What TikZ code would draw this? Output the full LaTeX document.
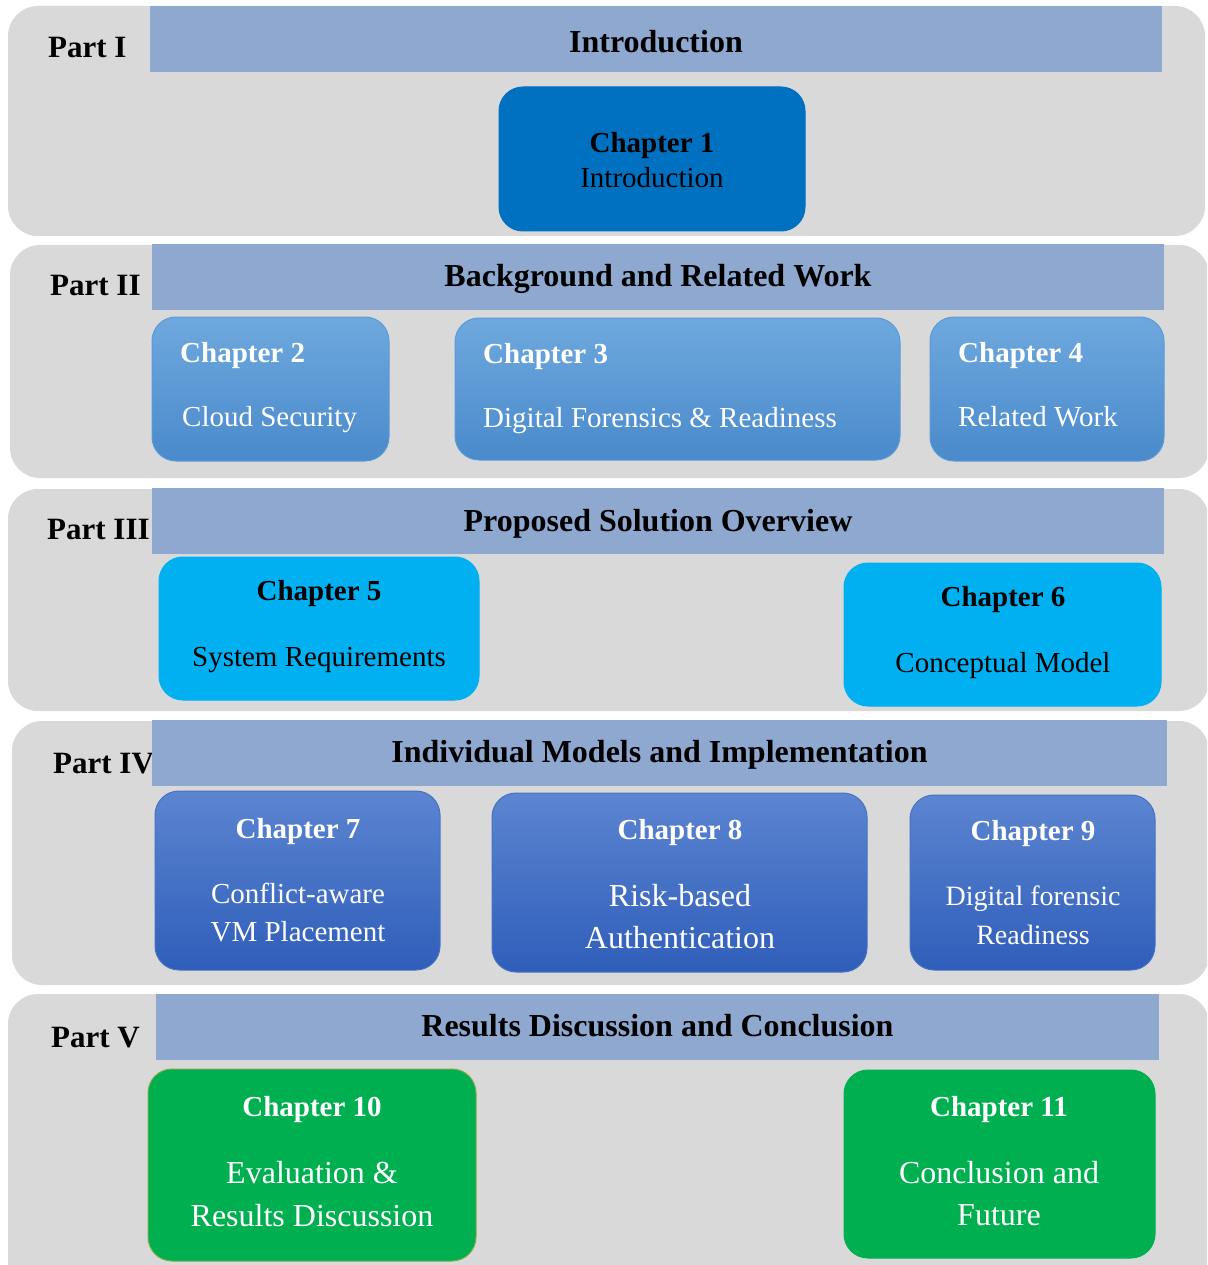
\documentclass[tikz,border=0pt]{standalone}
\usepackage{fontspec}
\setmainfont{Liberation Serif}
\definecolor{panelgray}{HTML}{D9D9D9}
\definecolor{headblue}{HTML}{8EA8D0}
\definecolor{introblue}{HTML}{0070C0}
\definecolor{bgtop}{HTML}{6EA8DE}
\definecolor{bgbot}{HTML}{4A8ACB}
\definecolor{bgedge}{HTML}{5B9BD5}
\definecolor{skyblue}{HTML}{00B0F0}
\definecolor{imtop}{HTML}{5C85D1}
\definecolor{imbot}{HTML}{2F5EBA}
\definecolor{imedge}{HTML}{4472C4}
\definecolor{resgreen}{HTML}{00B050}
\definecolor{oliveedge}{HTML}{7FA94A}
\newcommand\partfont{\fontsize{31}{36}\selectfont\bfseries}
\newcommand\headfont{\fontsize{32}{38}\selectfont\bfseries}
\newcommand\chapfont{\fontsize{29}{34}\selectfont\bfseries}
\newcommand\bodyfont{\fontsize{29}{34}\selectfont}
\newcommand\bigbodyfont{\fontsize{32}{37}\selectfont}
\newcommand\smallbodyfont{\fontsize{28}{33}\selectfont}
\begin{document}
\begin{tikzpicture}[x=1pt,y=-1pt,
  panel/.style={fill=panelgray, rounded corners=30pt},
  headbar/.style={fill=headblue, inner sep=0pt},
  headtext/.style={font=\headfont, inner sep=0pt, text height=22pt, text depth=0pt},
  chbox/.style={rounded corners=24pt, line width=1pt, inner sep=0pt},
  introbox/.style={chbox, fill=introblue, draw=introblue},
  bgbox/.style={chbox, top color=bgtop, bottom color=bgbot, draw=bgedge},
  skybox/.style={chbox, fill=skyblue, draw=skyblue},
  imbox/.style={chbox, top color=imtop, bottom color=imbot, draw=imedge},
  greenbox/.style={chbox, fill=resgreen, draw=resgreen},
  partlabel/.style={font=\partfont, anchor=west, inner sep=0pt, text height=21pt, text depth=0pt},
  txt/.style={inner sep=0pt, text height=19pt, text depth=0pt},
  bigtxt/.style={inner sep=0pt, text height=21pt, text depth=0pt}]
\clip (0,0) rectangle (1207,1265);

% grey part panels
\fill[panel] (8,6) rectangle (1205,236);
\fill[panel] (10,245) rectangle (1209,478);
\fill[panel] (8,489) rectangle (1209,711);
\fill[panel] (12,721) rectangle (1209,985);
\fill[panel] (8,994) rectangle (1209,1300);

% part titles
\node[partlabel] (p1) at (48,47) {Part I};
\node[partlabel] (p2) at (50,285) {Part II};
\node[partlabel] (p3) at (47,529) {Part III};
\node[partlabel] (p4) at (53,763) {Part IV};
\node[partlabel] (p5) at (51,1037) {Part V};

% header bars
\node[headbar, minimum width=1012pt, minimum height=66pt] (h1) at (656,39) {};
\node[headtext, yshift=-3pt] (h1t) at (h1.center) {Introduction};
\node[headbar, minimum width=1012pt, minimum height=66pt] (h2) at (658,277) {};
\node[headtext, yshift=2pt] (h2t) at (h2.center) {Background and Related Work};
\node[headbar, minimum width=1012pt, minimum height=66pt] (h3) at (658,521) {};
\node[headtext, yshift=1pt] (h3t) at (h3.center) {Proposed Solution Overview};
\node[headbar, minimum width=1015pt, minimum height=66pt] (h4) at (659.5,753) {};
\node[headtext, yshift=2pt] (h4t) at (h4.center) {Individual Models and Implementation};
\node[headbar, minimum width=1003pt, minimum height=66pt] (h5) at (657.5,1027) {};
\node[headtext, yshift=2pt] (h5t) at (h5.center) {Results Discussion and Conclusion};

% Part I
\node[introbox, minimum width=306pt, minimum height=144pt] (c1) at (652,159) {};
\node[txt, font=\chapfont] (c1a) at (652,143) {Chapter 1};
\node[txt, font=\bodyfont] (c1b) at (652,178) {Introduction};

% Part II
\node[bgbox, minimum width=237pt, minimum height=144pt] (c2) at (270.5,389) {};
\node[txt, font=\chapfont, text=white, anchor=west] (c2a) at (180,353) {Chapter 2};
\node[txt, font=\bodyfont, text=white, anchor=west] (c2b) at (182,417) {Cloud Security};
\node[bgbox, minimum width=445pt, minimum height=142pt] (c3) at (677.5,389) {};
\node[txt, font=\chapfont, text=white, anchor=west] (c3a) at (483,354) {Chapter 3};
\node[txt, font=\bodyfont, text=white, anchor=west] (c3b) at (483,418) {Digital Forensics \& Readiness};
\node[bgbox, minimum width=234pt, minimum height=144pt] (c4) at (1047,389) {};
\node[txt, font=\chapfont, text=white, anchor=west] (c4a) at (958,353) {Chapter 4};
\node[txt, font=\bodyfont, text=white, anchor=west] (c4b) at (958,417) {Related Work};

% Part III
\node[skybox, minimum width=320pt, minimum height=143pt] (c5) at (319,628.5) {};
\node[txt, font=\chapfont] (c5a) at (319,591) {Chapter 5};
\node[txt, font=\bodyfont] (c5b) at (319,657) {System Requirements};
\node[skybox, minimum width=317pt, minimum height=143pt] (c6) at (1002.5,634.5) {};
\node[txt, font=\chapfont] (c6a) at (1003,597) {Chapter 6};
\node[txt, font=\bodyfont] (c6b) at (1003,663) {Conceptual Model};

% Part IV
\node[imbox, minimum width=285pt, minimum height=179pt] (c7) at (297.5,880.5) {};
\node[txt, font=\chapfont, text=white] (c7a) at (298,829) {Chapter 7};
\node[txt, font=\bodyfont, text=white] (c7b) at (298,894) {Conflict-aware};
\node[txt, font=\bodyfont, text=white] (c7c) at (298,932) {VM Placement};
\node[imbox, minimum width=375pt, minimum height=179pt] (c8) at (679.5,882.5) {};
\node[txt, font=\chapfont, text=white] (c8a) at (680,830) {Chapter 8};
\node[bigtxt, font=\bigbodyfont, text=white] (c8b) at (680,896) {Risk-based};
\node[bigtxt, font=\bigbodyfont, text=white] (c8c) at (680,938) {Authentication};
\node[imbox, minimum width=245pt, minimum height=175pt] (c9) at (1032.5,882.5) {};
\node[txt, font=\chapfont, text=white] (c9a) at (1033,831) {Chapter 9};
\node[txt, font=\smallbodyfont, text=white] (c9b) at (1033,896) {Digital forensic};
\node[txt, font=\smallbodyfont, text=white] (c9c) at (1033,935) {Readiness};

% Part V
\node[greenbox, draw=oliveedge, minimum width=328pt, minimum height=192pt] (c10) at (312,1165) {};
\node[txt, font=\chapfont, text=white] (c10a) at (312,1107) {Chapter 10};
\node[bigtxt, font=\bigbodyfont, text=white] (c10b) at (312,1173) {Evaluation \&};
\node[bigtxt, font=\bigbodyfont, text=white] (c10c) at (312,1216) {Results Discussion};
\node[greenbox, minimum width=311pt, minimum height=188pt] (c11) at (999.5,1164) {};
\node[txt, font=\chapfont, text=white] (c11a) at (999,1107) {Chapter 11};
\node[bigtxt, font=\bigbodyfont, text=white] (c11b) at (999,1173) {Conclusion and};
\node[bigtxt, font=\bigbodyfont, text=white] (c11c) at (999,1215) {Future};
\end{tikzpicture}
\end{document}
